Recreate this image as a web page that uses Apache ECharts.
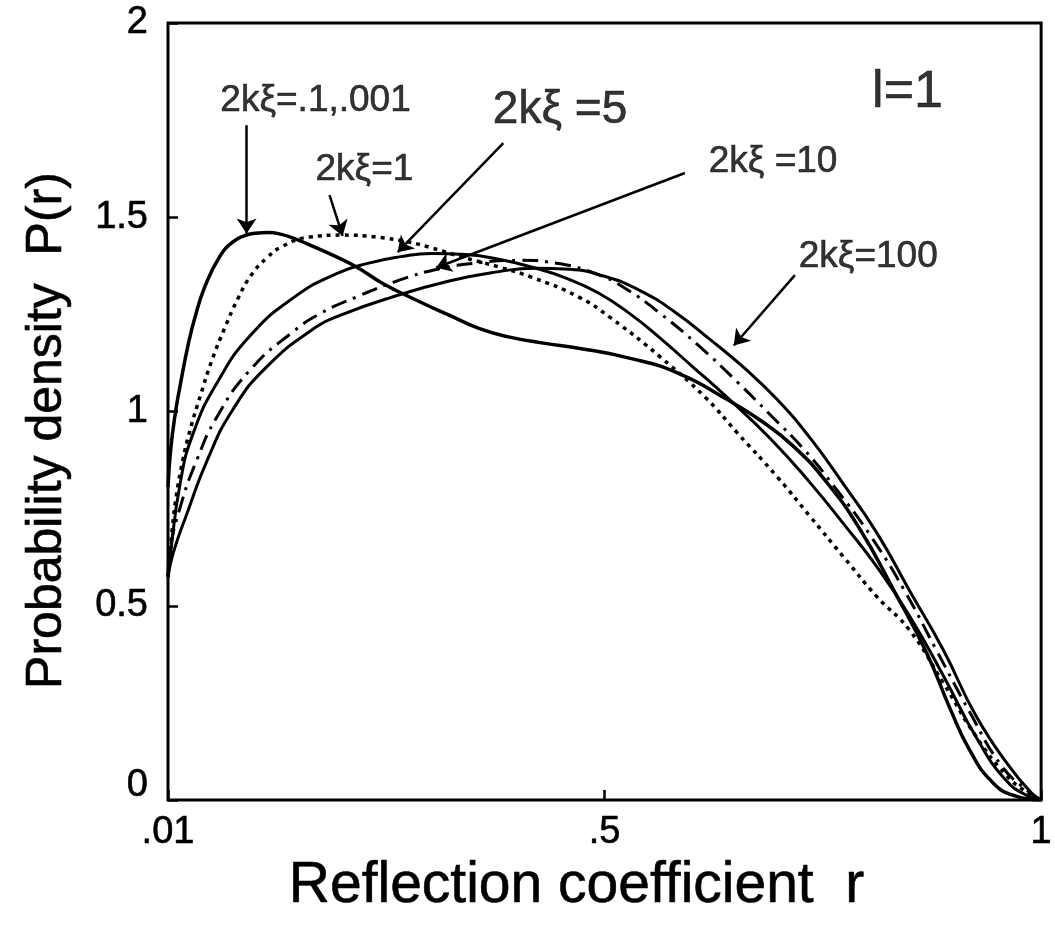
<!DOCTYPE html>
<html>
<head>
<meta charset="utf-8">
<script src="https://cdn.jsdelivr.net/npm/echarts@6/dist/echarts.min.js"></script>
<style>
  html, body { margin: 0; padding: 0; background: #ffffff; }
  #chart { width: 1055px; height: 931px; }
</style>
</head>
<body>
<div id="chart"></div>
<script>
// Reflection-coefficient axis: positions 0, 0.5, 1 carry these labels
const rTickLabels = ['.01', '.5', '1'];
const pTickLabels = ['0', '0.5', '1', '1.5', '2'];

// P(r) curves, [r, P] pairs, one per 2kξ value
const curveSmallK = [ // 2kξ = .1, .001
  [0, 0.806], [0.003, 0.90], [0.008, 0.99], [0.014, 1.068], [0.023, 1.171], [0.031, 1.243],
  [0.042, 1.320], [0.059, 1.398], [0.074, 1.436], [0.088, 1.453], [0.100, 1.459], [0.115, 1.461],
  [0.130, 1.456], [0.145, 1.445], [0.162, 1.429], [0.193, 1.398], [0.216, 1.372], [0.245, 1.331],
  [0.284, 1.287], [0.322, 1.248], [0.356, 1.214], [0.390, 1.192], [0.430, 1.176], [0.470, 1.163],
  [0.527, 1.138], [0.584, 1.099], [0.641, 1.030], [0.678, 0.978], [0.717, 0.909], [0.755, 0.816],
  [0.793, 0.695], [0.831, 0.541], [0.869, 0.378], [0.895, 0.239], [0.918, 0.129], [0.945, 0.044],
  [0.971, 0.010], [1, 0]
];
const curveK1 = [ // 2kξ = 1
  [0, 0.574], [0.005, 0.70], [0.010, 0.79], [0.017, 0.875], [0.025, 0.95], [0.037, 1.04],
  [0.050, 1.13], [0.065, 1.215], [0.080, 1.29], [0.095, 1.35], [0.113, 1.395], [0.131, 1.425],
  [0.162, 1.449], [0.200, 1.454], [0.238, 1.449], [0.276, 1.436], [0.302, 1.421], [0.341, 1.395],
  [0.379, 1.372], [0.416, 1.346], [0.470, 1.295], [0.507, 1.241], [0.564, 1.140], [0.615, 1.037],
  [0.652, 0.945], [0.698, 0.831], [0.736, 0.728], [0.774, 0.625], [0.812, 0.523], [0.849, 0.438],
  [0.888, 0.301], [0.926, 0.162], [0.960, 0.064], [0.983, 0.021], [1, 0]
];
const curveK5 = [ // 2kξ = 5
  [0, 0.574], [0.002, 0.618], [0.014, 0.816], [0.029, 0.945], [0.056, 1.073], [0.094, 1.195],
  [0.145, 1.295], [0.193, 1.355], [0.230, 1.382], [0.265, 1.398], [0.302, 1.407], [0.341, 1.404],
  [0.379, 1.392], [0.416, 1.372], [0.455, 1.344], [0.493, 1.305], [0.530, 1.250], [0.564, 1.188],
  [0.600, 1.117], [0.641, 1.035], [0.690, 0.930], [0.736, 0.815], [0.774, 0.710], [0.812, 0.600],
  [0.849, 0.475], [0.888, 0.320], [0.926, 0.160], [0.960, 0.050], [0.985, 0.010], [1, 0]
];
const curveK10 = [ // 2kξ = 10
  [0, 0.574], [0.002, 0.636], [0.014, 0.754], [0.033, 0.875], [0.056, 0.986], [0.094, 1.107],
  [0.143, 1.205], [0.175, 1.253], [0.216, 1.295], [0.265, 1.338], [0.310, 1.367], [0.356, 1.383],
  [0.401, 1.389], [0.447, 1.381], [0.493, 1.352], [0.523, 1.318], [0.564, 1.252], [0.610, 1.165],
  [0.652, 1.076], [0.690, 0.991], [0.729, 0.901], [0.766, 0.798], [0.804, 0.682], [0.843, 0.541],
  [0.880, 0.386], [0.918, 0.227], [0.954, 0.090], [0.983, 0.026], [1, 0]
];
const curveK100 = [ // 2kξ = 100
  [0, 0.574], [0.006, 0.636], [0.022, 0.739], [0.045, 0.875], [0.074, 1.004], [0.113, 1.115],
  [0.170, 1.218], [0.200, 1.250], [0.253, 1.292], [0.322, 1.336], [0.379, 1.360], [0.420, 1.369],
  [0.460, 1.366], [0.500, 1.348], [0.540, 1.312], [0.580, 1.257], [0.621, 1.185], [0.660, 1.112],
  [0.698, 1.030], [0.736, 0.930], [0.774, 0.812], [0.812, 0.687], [0.849, 0.540], [0.888, 0.386],
  [0.926, 0.214], [0.964, 0.085], [0.989, 0.018], [1, 0]
];

// Curve captions, placed in data coordinates [r, P]
const captionTexts = ['2kξ=.1,.001', '2kξ=1', '2kξ =5', '2kξ =10', '2kξ=100', 'l=1'];
const captionAt = [[0.169, 1.80], [0.225, 1.622], [0.449, 1.776], [0.693, 1.642], [0.802, 1.398], [0.847, 1.82]];
const captionSize = [37, 37, 46, 37, 37, 52];

// Pointer arrows from caption to curve: [r0, P0, r1, P1]
const pointerArrows = [
  [0.090, 1.737, 0.090, 1.458],
  [0.185, 1.557, 0.2, 1.452],
  [0.384, 1.691, 0.263, 1.410],
  [0.592, 1.614, 0.307, 1.370],
  [0.718, 1.351, 0.648, 1.170]
];

const FONT = '"Liberation Sans", Arial, Helvetica, sans-serif';
const INK = '#000000';

const chart = echarts.init(document.getElementById('chart'), null, { renderer: 'canvas' });

function curveSeries(name, data, width, dash) {
  return {
    name: name,
    type: 'line',
    data: data,
    showSymbol: false,
    symbol: 'none',
    smooth: 0.5,
    silent: true,
    lineStyle: { color: INK, width: width, type: dash || 'solid', cap: 'butt', join: 'round' },
    z: 3
  };
}

const option = {
  animation: false,
  backgroundColor: '#ffffff',
  grid: {
    left: 168, right: 10, top: 23, bottom: 131,
    show: true, borderColor: INK, borderWidth: 3, backgroundColor: 'transparent'
  },
  xAxis: {
    type: 'value', min: 0, max: 1, interval: 0.5,
    axisLine: { show: false },
    axisTick: { show: true, inside: true, length: 10, lineStyle: { color: INK, width: 2.5 } },
    splitLine: { show: false },
    axisLabel: {
      show: true, margin: 14, color: INK, fontSize: 38, fontFamily: FONT,
      textBorderColor: INK, textBorderWidth: 0.6,
      showMinLabel: true, showMaxLabel: true,
      formatter: v => rTickLabels[Math.round(v * 2)]
    },
    name: 'Reflection coefficient  r',
    nameLocation: 'middle',
    nameGap: 50,
    nameTextStyle: {
      color: INK, fontSize: 57, fontFamily: FONT, padding: [0, 56, 0, 0],
      textBorderColor: INK, textBorderWidth: 0.6
    }
  },
  yAxis: {
    type: 'value', min: 0, max: 2, interval: 0.5,
    axisLine: { show: false },
    axisTick: { show: true, inside: true, length: 10, lineStyle: { color: INK, width: 2.5 } },
    splitLine: { show: false },
    axisLabel: {
      show: true, margin: 20, color: INK, fontSize: 38, fontFamily: FONT,
      textBorderColor: INK, textBorderWidth: 0.6,
      formatter: v => {
        const s = pTickLabels[Math.round(v * 2)];
        return v === 0 ? '{zero|' + s + '}' : s;
      },
      rich: {
        zero: {
          fontSize: 38, fontFamily: FONT, color: INK, padding: [0, 0, 28, 0],
          textBorderColor: INK, textBorderWidth: 0.6
        }
      }
    },
    name: 'Probability density  P(r)',
    nameLocation: 'middle',
    nameGap: 96,
    nameTextStyle: {
      color: INK, fontSize: 50, fontFamily: FONT, padding: [0, 38, 0, 0],
      textBorderColor: INK, textBorderWidth: 0.6
    }
  },
  series: [
    curveSeries('2kξ=.1,.001', curveSmallK, 3.5),
    curveSeries('2kξ=1', curveK1, 3.5, [4, 5]),
    curveSeries('2kξ=5', curveK5, 3),
    curveSeries('2kξ=10', curveK10, 3, [16, 7, 3, 7]),
    curveSeries('2kξ=100', curveK100, 3),
    {
      name: 'captions',
      type: 'scatter',
      silent: true,
      symbolSize: 1,
      itemStyle: { color: 'rgba(0,0,0,0)' },
      data: captionTexts.map((t, i) => ({
        value: captionAt[i],
        name: t,
        label: { fontSize: captionSize[i] }
      })),
      label: {
        show: true, position: 'inside', color: INK, fontFamily: FONT,
        textBorderColor: INK, textBorderWidth: 0.6,
        formatter: p => p.name
      },
      markLine: {
        silent: true,
        symbol: ['none', 'arrow'],
        symbolSize: 15,
        label: { show: false },
        lineStyle: { color: INK, width: 2.5, type: 'solid' },
        data: pointerArrows.map(a => [{ coord: [a[0], a[1]] }, { coord: [a[2], a[3]] }])
      },
      z: 5
    }
  ]
};

chart.setOption(option);
</script>
</body>
</html>
